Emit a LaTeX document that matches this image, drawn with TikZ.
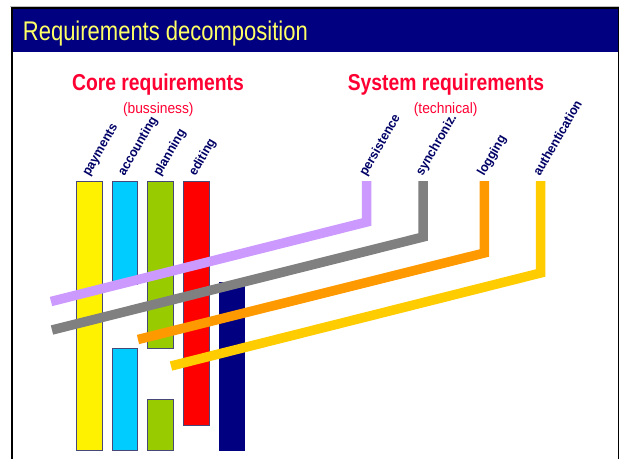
\documentclass[tikz,border=0pt]{standalone}
\usepackage{fontspec}
\setmainfont{Liberation Sans}
\usepackage{graphicx}
\definecolor{hdrnavy}{RGB}{0,0,128}
\definecolor{titleyellow}{RGB}{255,255,102}
\definecolor{headred}{RGB}{255,0,51}
\definecolor{lblnavy}{RGB}{0,0,102}
\definecolor{barline}{RGB}{72,72,120}
\definecolor{cyanbar}{RGB}{0,204,255}
\definecolor{greenbar}{RGB}{153,204,0}
\definecolor{purplestrip}{RGB}{204,153,255}
\definecolor{graystrip}{RGB}{128,128,128}
\definecolor{orangestrip}{RGB}{255,153,0}
\definecolor{goldstrip}{RGB}{255,204,0}
\tikzset{
  bar/.style={draw=barline, line width=0.8pt},
  lbl/.style={anchor=base west, rotate=60, inner sep=0pt, text=lblnavy,
              font=\bfseries\fontsize{13}{15}\selectfont},
  heading/.style={anchor=base, inner sep=0pt, text=headred,
              font=\bfseries\fontsize{23}{26}\selectfont},
  subheading/.style={anchor=base, inner sep=0pt, text=headred,
              font=\fontsize{15}{17}\selectfont},
  strip/.style={line width=9.5pt, line cap=butt, line join=miter}
}
\begin{document}
\begin{tikzpicture}[x=1pt,y=-1pt]
\useasboundingbox (0,0) rectangle (620,459);
\fill[white] (0,0) rectangle (620,459);
% frame
\draw[gray!50, line width=1pt] (10,6.5) -- (619,6.5);
\fill[hdrnavy] (11,8) rectangle (618,52);
\draw[black, line width=1.2pt] (10.5,8) -- (618.5,8);
\draw[black, line width=2pt] (11.5,7.5) -- (11.5,459);
\draw[black, line width=1.5pt] (618.5,7.5) -- (618.5,459);
% title
\node[anchor=base west, inner sep=0pt, text=titleyellow,
      font=\fontsize{27}{30}\selectfont] (title) at (22.7,40)
      {\scalebox{0.815}[1]{Requirements decomposition}};
% headings
\node[heading] (core) at (158,90.7) {\scalebox{0.84}[1]{Core requirements}};
\node[subheading] (bus) at (158.3,113) {\scalebox{0.92}[1]{(bussiness)}};
\node[heading] (sys) at (446,90.7) {\scalebox{0.84}[1]{System requirements}};
\node[subheading] (tech) at (445.7,113) {\scalebox{0.92}[1]{(technical)}};
% bars
\fill[yellow, bar] (76.7,181) rectangle (102.3,450.7);
\fill[cyanbar, bar] (112,181) rectangle (137.7,284);
\fill[cyanbar, bar] (112,348.7) rectangle (137.7,450.7);
\fill[greenbar, bar] (147.7,181) rectangle (173.3,348.7);
\fill[greenbar, bar] (147.7,399.7) rectangle (173.3,450.7);
\fill[red, bar] (183.3,181) rectangle (209,425.3);
\fill[hdrnavy] (219,282.3) rectangle (244.7,450.7);
% labels
\node[lbl] (lpay) at (89,177) {\scalebox{0.95}[1]{payments}};
\node[lbl] (lacc) at (124.5,177) {\scalebox{0.95}[1]{accounting}};
\node[lbl] (lpla) at (160,177) {\scalebox{0.95}[1]{planning}};
\node[lbl] (ledi) at (195.5,177) {\scalebox{0.95}[1]{editing}};
\node[lbl] (lper) at (366,177) {\scalebox{0.95}[1]{persistence}};
\node[lbl] (lsyn) at (422.5,177) {\scalebox{0.95}[1]{synchroniz.}};
\node[lbl] (llog) at (484,177) {\scalebox{0.95}[1]{logging}};
\node[lbl] (laut) at (540,177) {\scalebox{0.95}[1]{authentication}};
% strip coordinates
\coordinate (pA) at (51,301.5);  \coordinate (pB) at (366.7,222);  \coordinate (pC) at (366.7,181);
\coordinate (gA) at (52,330);    \coordinate (gB) at (423,237);    \coordinate (gC) at (423,181);
\coordinate (oA) at (138,339.5); \coordinate (oB) at (484.3,253);  \coordinate (oC) at (484.3,181);
\coordinate (yA) at (171,366);   \coordinate (yB) at (540.5,273);  \coordinate (yC) at (540.5,181);
% strips
\draw[strip, purplestrip] (pA) -- (pB) -- (pC);
\draw[strip, graystrip] (gA) -- (gB) -- (gC);
\draw[strip, orangestrip] (oA) -- (oB) -- (oC);
\draw[strip, goldstrip] (yA) -- (yB) -- (yC);
\end{tikzpicture}
\end{document}
